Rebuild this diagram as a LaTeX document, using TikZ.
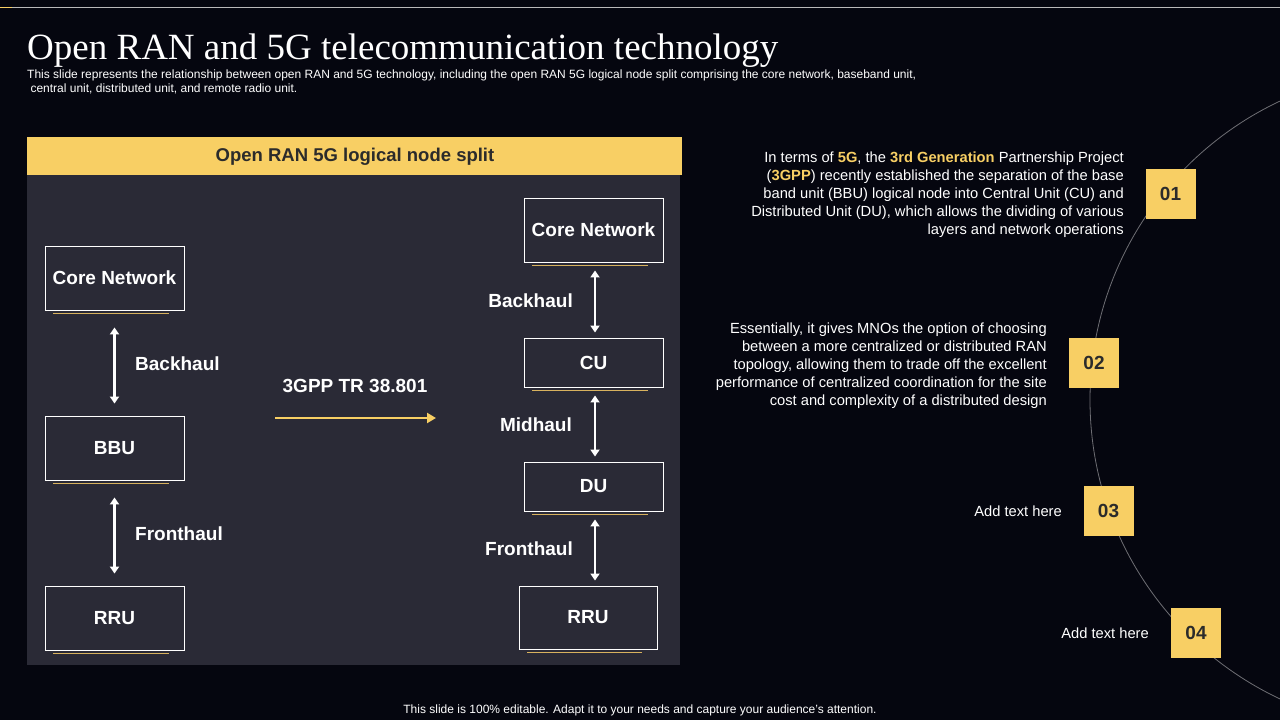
\documentclass[tikz,border=0pt]{standalone}
\usepackage{fontspec}
\setmainfont{Liberation Sans}
\newfontfamily\titlefont{Liberation Serif}
\usetikzlibrary{arrows.meta}
\definecolor{slidebg}{HTML}{05060F}
\definecolor{panelbg}{HTML}{2A2A36}
\definecolor{gold}{HTML}{F8CF64}
\definecolor{goldline}{HTML}{D8B25E}
\definecolor{numtext}{HTML}{2B2B2B}
\definecolor{arcgray}{HTML}{6E6E74}

\begin{document}
\begin{tikzpicture}[x=1pt,y=-1pt,
  unitbox/.style={draw=white, line width=0.9pt, minimum width=139pt, minimum height=64pt,
    text=white, font=\bfseries\fontsize{19}{21}\selectfont},
  haul/.style={white, line width=2.8pt, {Triangle[length=7pt,width=9pt]}-{Triangle[length=7pt,width=9pt]}},
  haullabel/.style={text=white, inner sep=1pt, font=\bfseries\fontsize{19}{21}\selectfont},
  underline/.style={fill=goldline, draw=none},
  numbox/.style={fill=gold, minimum size=50pt, text=numtext, font=\bfseries\fontsize{19}{20}\selectfont},
  note/.style={text=white, align=right, anchor=east, inner sep=0pt, font=\fontsize{14.7}{18}\selectfont}]

  % slide background and frame
  \fill[slidebg] (0,0) rectangle (1280,720);
  \useasboundingbox (0,0) rectangle (1280,720);
  \draw[gray!55, line width=1pt] (0,7) -- (1280,7);
  \draw[gold, line width=1pt] (0,7) -- (12,7);

  \begin{scope}
    \clip (0,0) rectangle (1280,720);
    \draw[arcgray, line width=0.8pt] (1420,400) circle[radius=330];
  \end{scope}

  % title
  \node[anchor=base west, inner sep=0pt, text=white, font=\titlefont\fontsize{37}{40}\selectfont]
    (title) at (27,59) {Open RAN and 5G telecommunication technology};
  \node[anchor=north west, inner sep=0pt, text=white, align=left, font=\fontsize{12}{14}\selectfont]
    (subtitle) at (27,70) {This slide represents the relationship between open RAN and 5G technology, including the open RAN 5G logical node split comprising the core network, baseband unit,\\
    \ central unit, distributed unit, and remote radio unit.};

  % panel
  \fill[panelbg] (27,175) rectangle (680,665);
  \fill[gold] (27,137) rectangle (682,175);
  \node[text=numtext, font=\bfseries\fontsize{18.5}{20}\selectfont] (header) at (355,157) {Open RAN 5G logical node split};

  % left chain
  \node[unitbox] (cn1) at (114.5,278) {Core Network};
  \node[unitbox] (bbu1) at (114.5,448) {BBU};
  \node[unitbox] (rru1) at (114.5,618) {RRU};

  \draw[haul, shorten <=17pt, shorten >=12pt] (cn1) -- (bbu1);
  \draw[haul, shorten <=17pt, shorten >=12pt] (bbu1) -- (rru1);
  \node[haullabel, anchor=west] (bh1) at (134,364) {Backhaul};
  \node[haullabel, anchor=west] (fh1) at (134,534) {Fronthaul};

  % split
  \node[text=white, font=\bfseries\fontsize{19}{21}\selectfont] (tr) at (355,386) {3GPP TR 38.801};
  \coordinate (split0) at (275,418);
  \coordinate (split1) at (436,418);
  \draw[gold, line width=2.8pt, -{Triangle[length=9pt,width=10pt]}] (split0) -- (split1);

  % right chain
  \node[unitbox] (cn2) at (593.5,230) {Core Network};
  \node[unitbox, minimum height=49pt] (cu2) at (593.5,362.5) {CU};
  \node[unitbox, minimum height=49pt] (du2) at (593.5,486.5) {DU};
  \node[unitbox, minimum width=138pt, minimum height=63pt] (rru2) at (588,617.5) {RRU};

  \draw[haul, shorten <=8pt, shorten >=5pt] ([xshift=1.5pt]cn2.south) -- ([xshift=1.5pt]cu2.north);
  \draw[haul, shorten <=8pt, shorten >=5pt] ([xshift=1.5pt]cu2.south) -- ([xshift=1.5pt]du2.north);
  \draw[haul, shorten <=8pt, shorten >=5pt] ([xshift=1.5pt]du2.south) -- ([xshift=1.5pt]du2.south |- rru2.north);
  \node[haullabel, anchor=east] (bh2) at (574,301) {Backhaul};
  \node[haullabel, anchor=east] (mh2) at (573,425) {Midhaul};
  \node[haullabel, anchor=east] (fh2) at (574,549) {Fronthaul};

  \foreach \b in {cn1,bbu1,rru1,cn2,cu2,du2,rru2}
    \path[underline] ([xshift=8pt,yshift=-2.5pt]\b.south west) rectangle ([xshift=-15pt,yshift=-4pt]\b.south east);

  % numbered notes
  \node[numbox] (n1) at (1170.5,194) {01};
  \node[numbox] (n2) at (1094,363) {02};
  \node[numbox] (n3) at (1108.5,511) {03};
  \node[numbox] (n4) at (1196,632.5) {04};

  \node[note] (t1) at (1124,195) {In terms of \textcolor{gold}{\bfseries 5G}, the \textcolor{gold}{\bfseries 3rd Generation} Partnership Project\\
    (\textcolor{gold}{\bfseries 3GPP}) recently established the separation of the base\\
    band unit (BBU) logical node into Central Unit (CU) and\\
    Distributed Unit (DU), which allows the dividing of various\\
    layers and network operations};
  \node[note] (t2) at (1047,366) {Essentially, it gives MNOs the option of choosing\\
    between a more centralized or distributed RAN\\
    topology, allowing them to trade off the excellent\\
    performance of centralized coordination for the site\\
    cost and complexity of a distributed design};
  \node[note] (t3) at (1062,511) {Add text here};
  \node[note] (t4) at (1149,633) {Add text here};

  % footer
  \node[text=white, font=\fontsize{12}{14}\selectfont] (footer) at (640,710)
    {This slide is 100\% editable. Adapt it to your needs and capture your audience's attention.};
\end{tikzpicture}
\end{document}
